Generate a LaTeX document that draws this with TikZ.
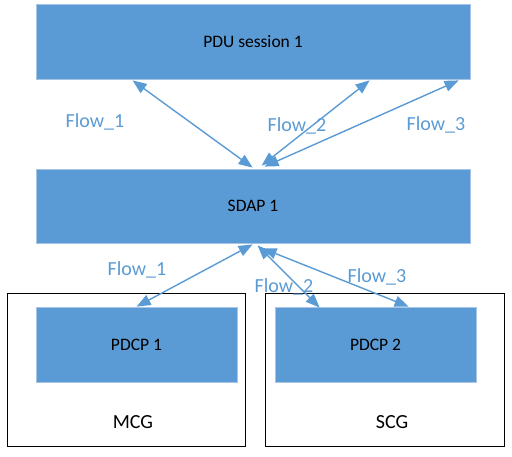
\documentclass[tikz,border=0pt]{standalone}
\usepackage{fontspec}
\setmainfont{Carlito}
\usetikzlibrary{arrows.meta,calc}
\definecolor{boxblue}{HTML}{5B9BD5}
\definecolor{boxedge}{HTML}{A7C4E5}
\definecolor{flowblue}{HTML}{5B9BD5}
\tikzset{
  bluebox/.style={rectangle, fill=boxblue, draw=boxedge, line width=0.8pt, inner sep=0pt, font=\fontsize{17.5}{20}\selectfont},
  groupbox/.style={rectangle, draw=black, line width=1pt, fill=white, inner sep=0pt},
  flow/.style={draw=flowblue, line width=1.4pt, {Triangle[length=14pt,width=11pt]}-{Triangle[length=14pt,width=11pt]}},
  flowlabel/.style={text=flowblue, font=\fontsize{20}{24}\selectfont, inner sep=0pt},
  grouplabel/.style={font=\fontsize{20}{24}\selectfont, inner sep=0pt}
}
\begin{document}
\begin{tikzpicture}[x=1pt,y=-1pt]
\useasboundingbox (0,0) rectangle (512,457);
\node[bluebox, minimum width=434pt, minimum height=75pt] (pdu) at (253,41.5) {PDU session 1};
\node[bluebox, minimum width=434pt, minimum height=74pt] (sdap) at (253,206) {SDAP 1};
\node[groupbox, minimum width=238pt, minimum height=152pt] (mcg) at (126,370) {};
\node[groupbox, minimum width=239pt, minimum height=152pt] (scg) at (384.5,370) {};
\node[bluebox, minimum width=201pt, minimum height=75pt] (pdcp1) at (136.5,344.5) {PDCP 1};
\node[bluebox, minimum width=201pt, minimum height=75pt] (pdcp2) at (375.5,344.5) {PDCP 2};
\node[grouplabel] (mcgl) at (133,422) {MCG};
\node[grouplabel] (scgl) at (392,422) {SCG};
% top flows
\draw[flow] ($(pdu.south west)+(97,1)$) -- ($(sdap.north west)+(217,-1)$);
\draw[flow] ($(pdu.south west)+(334,1)$) -- ($(sdap.north west)+(226,-3)$);
\draw[flow] ($(pdu.south west)+(423,1)$) -- ($(sdap.north west)+(229,-2)$);
\node[flowlabel] (f1a) at (95,122) {Flow\_1};
\node[flowlabel] (f2a) at (297,126) {Flow\_2};
\node[flowlabel] (f3a) at (436,125) {Flow\_3};
% bottom flows
\draw[flow] ($(sdap.south west)+(217,1)$) -- ($(pdcp1.north west)+(101,0)$);
\draw[flow] ($(sdap.south west)+(222,2)$) -- ($(pdcp2.north west)+(45,1)$);
\draw[flow] ($(sdap.south west)+(227,5)$) -- ($(pdcp2.north west)+(134,0)$);
\node[flowlabel] (f1b) at (137,270) {Flow\_1};
\node[flowlabel] (f2b) at (284,287) {Flow\_2};
\node[flowlabel] (f3b) at (377,277) {Flow\_3};
\end{tikzpicture}
\end{document}
